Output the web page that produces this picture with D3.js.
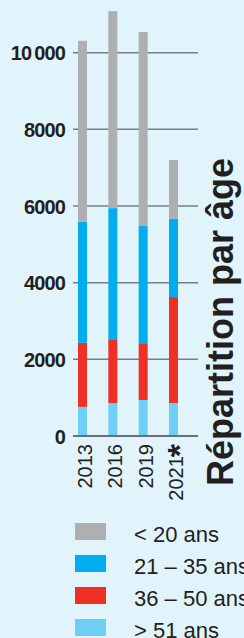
<!DOCTYPE html>
<html>
<head>
<meta charset="utf-8">
<script src="https://cdn.jsdelivr.net/npm/d3@7"></script>
<style>
  html, body { margin: 0; padding: 0; background: #e1f3fb; }
  svg { display: block; }
  text { font-family: "Liberation Sans", Arial, Helvetica, sans-serif; fill: #231f20; }
</style>
</head>
<body>
<svg width="244" height="638"></svg>
<script>
// data
var years = ["2013", "2016", "2019", "2021"];
var under20 = [4720, 5140, 5060, 1540];
var age21to35 = [3160, 3440, 3080, 2035];
var age36to50 = [1670, 1645, 1460, 2765];
var over51 = [760, 860, 940, 860];
var yTicks = [0, 2000, 4000, 6000, 8000, 10000];

var seriesNames = ["< 20 ans", "21 \u2013 35 ans", "36 \u2013 50 ans", "> 51 ans"];
var colors = ["#adafb2", "#00aeef", "#ee3124", "#6dcff6"];

var svg = d3.select("svg");

// stacked from bottom: > 51, 36-50, 21-35, < 20
var rows = years.map(function(y, i) {
    return {year: y, a: over51[i], b: age36to50[i], c: age21to35[i], d: under20[i]};
});
var stack = d3.stack().keys(["a", "b", "c", "d"]);
var layers = stack(rows);
var layerColor = {a: colors[3], b: colors[2], c: colors[1], d: colors[0]};

var x = d3.scalePoint().domain(years).range([82.5, 173.5]);
var y = d3.scaleLinear().domain([0, 10000]).range([436, 52.7]);
var barW = 9;

// gridlines
svg.append("g")
    .selectAll("line")
    .data(yTicks.filter(function(d) { return d > 0; }))
    .enter().append("line")
    .attr("x1", 73).attr("x2", 198)
    .attr("y1", function(d) { return y(d); })
    .attr("y2", function(d) { return y(d); })
    .attr("stroke", "#7b7e81")
    .attr("stroke-width", 1.5);

// tick labels
svg.append("g")
    .selectAll("text")
    .data(yTicks)
    .enter().append("text")
    .attr("x", 65)
    .attr("y", function(d) { return y(d) + 7.5; })
    .attr("text-anchor", "end")
    .style("font-size", "20px")
    .style("font-weight", "bold")
    .style("letter-spacing", "-0.9px")
    .text(function(d) { return d >= 10000 ? d3.format(",")(d).replace(",", "\u2009") : d; });

// bars
svg.append("g")
    .selectAll("g")
    .data(layers)
    .enter().append("g")
    .attr("fill", function(d) { return layerColor[d.key]; })
    .selectAll("rect")
    .data(function(d) { return d; })
    .enter().append("rect")
    .attr("x", function(d) { return x(d.data.year) - barW / 2; })
    .attr("y", function(d) { return y(d[1]); })
    .attr("width", barW)
    .attr("height", function(d) { return y(d[0]) - y(d[1]); });

// baseline
svg.append("line")
    .attr("x1", 73).attr("x2", 198)
    .attr("y1", y(0)).attr("y2", y(0))
    .attr("stroke", "#6d7073")
    .attr("stroke-width", 2);

// year labels, rotated
var yl = svg.append("g")
    .selectAll("text")
    .data(years)
    .enter().append("text")
    .attr("transform", function(d) { return "translate(" + (x(d) + 9.5) + "," + 444 + ") rotate(-90)"; })
    .attr("text-anchor", "end")
    .style("font-size", "20px");
yl.append("tspan").text(function(d) { return d; });
yl.filter(function(d) { return d === "2021"; })
    .append("tspan")
    .style("font-size", "34px")
    .style("font-weight", "bold")
    .attr("dx", "-1")
    .attr("dy", "8")
    .text("*");

// title
svg.append("text")
    .attr("transform", "translate(233,486) rotate(-90)")
    .style("font-size", "36px")
    .style("font-weight", "bold")
    .text("Répartition par âge");

// legend
var leg = svg.append("g")
    .selectAll("g")
    .data(seriesNames)
    .enter().append("g")
    .attr("transform", function(d, i) { return "translate(75," + (523 + i * 32) + ")"; });
leg.append("rect")
    .attr("width", 31).attr("height", 17)
    .attr("fill", function(d, i) { return colors[i]; });
leg.append("text")
    .attr("x", 59).attr("y", 19)
    .style("font-size", "22px")
    .text(function(d) { return d; });
</script>
</body>
</html>
